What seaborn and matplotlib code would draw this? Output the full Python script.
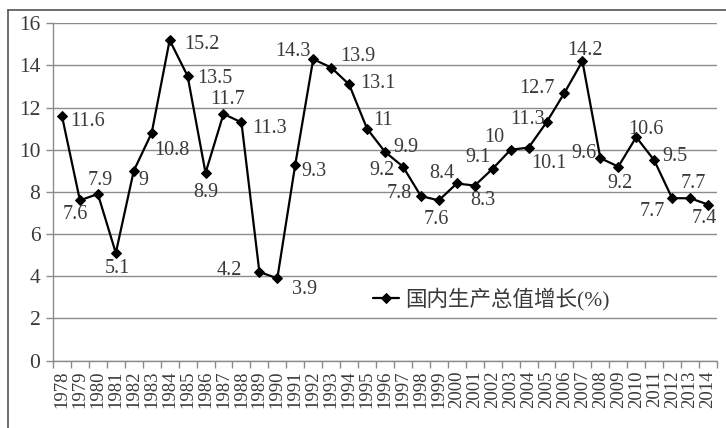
import numpy as np
import pandas as pd
import matplotlib
matplotlib.use("Agg")
import matplotlib.pyplot as plt
import seaborn as sns
from matplotlib.lines import Line2D
from matplotlib.ticker import FixedLocator

# ---- data ----
years = list(range(1978, 2015))
growth = [11.6, 7.6, 7.9, 5.1, 9.0, 10.8, 15.2, 13.5, 8.9, 11.7, 11.3, 4.2, 3.9,
          9.3, 14.3, 13.9, 13.1, 11.0, 9.9, 9.2, 7.8, 7.6, 8.4, 8.3, 9.1, 10.0,
          10.1, 11.3, 12.7, 14.2, 9.6, 9.2, 10.6, 9.5, 7.7, 7.7, 7.4]
series_name = "国内生产总值增长(%)"
y_ticks = [0, 2, 4, 6, 8, 10, 12, 14, 16]

# label placement (pixel offsets of label centre from point: dx right, dy down)
label_offsets = [(26, 4), (-5, 13), (2, -15), (2, 14), (10, 9), (20, 17), (32, 3),
                 (27, 2), (0, 19), (4, -15), (28, 5), (-30, -2), (27, 10), (19, 6),
                 (-20, -9), (27, -12), (29, -2), (16, -9), (21, -5), (-21, 3),
                 (-22, -4), (-3, 18), (-15, -11), (8, 14), (-15, -12), (-16, -13),
                 (20, 15), (-19, -4), (-27, -5), (3, -12), (-16, -6), (2, 16),
                 (10, -9), (21, -5), (-20, 12), (3, -16), (-4, 13)]

df = pd.DataFrame({"year": years, "growth": growth})

sns.set_style("white")
plt.rcParams["font.family"] = ["Liberation Serif", "Noto Sans CJK SC", "DejaVu Sans"]

W, H = 726, 428
fig = plt.figure(figsize=(W / 100, H / 100), dpi=100)
ax = fig.add_axes([53 / W, 1 - 360.5 / H, (717 - 53) / W, (360.5 - 23.3) / H])

text_col = "#3a3a3a"
grid_col = "#8c8c8c"

sns.lineplot(data=df, x="year", y="growth", ax=ax, color="black", linewidth=1.6,
             marker="D", markersize=5.5, markeredgecolor="black",
             markerfacecolor="black", label=series_name)

for yr, v, (dx, dy) in zip(years, growth, label_offsets):
    ax.annotate(f"{v:g}", (yr, v), xytext=(dx, -dy - 1), textcoords="offset pixels",
                ha="center", va="center", fontsize=14.5, color=text_col)

ax.set_xlim(years[0] - 0.5, years[-1] + 0.5)
ax.set_ylim(0, 16)
ax.set_yticks(y_ticks)
ax.set_yticklabels([str(t) for t in y_ticks], fontsize=15.5, color=text_col)
ax.set_xticks(years)
ax.set_xticklabels([str(y) for y in years], rotation=90, fontsize=13.5, color=text_col)
ax.xaxis.set_minor_locator(FixedLocator([y - 0.5 for y in years] + [years[-1] + 0.5]))
ax.tick_params(axis="x", which="major", length=0, pad=7)
ax.tick_params(axis="x", which="minor", length=5, width=1, color=grid_col, direction="out", bottom=True)
ax.tick_params(axis="y", which="major", length=5, width=1, color=grid_col, direction="out", left=True, pad=4)
ax.set_xlabel("")
ax.set_ylabel("")

ax.yaxis.grid(True, color=grid_col, linewidth=1)
ax.xaxis.grid(False)
ax.set_axisbelow(True)
for s in ["top", "right"]:
    ax.spines[s].set_visible(False)
for s in ["left", "bottom"]:
    ax.spines[s].set_color(grid_col)
    ax.spines[s].set_linewidth(1)

leg = ax.legend(loc="center left", bbox_to_anchor=((373 - 53) / 664, (360.5 - 299) / 337.2),
                frameon=False, fontsize=15.5, handlelength=1.2, handletextpad=0.3,
                borderpad=0, borderaxespad=0)
for t in leg.get_texts():
    t.set_color(text_col)

# outer chart frame (partially visible)
fig.add_artist(Line2D([8 / W, 1], [1 - 10 / H, 1 - 10 / H], transform=fig.transFigure,
                      color="#555555", linewidth=1.2))
fig.add_artist(Line2D([8 / W, 8 / W], [0, 1 - 10 / H], transform=fig.transFigure,
                      color="#555555", linewidth=1.2))

fig.savefig("out.png", dpi=100)
